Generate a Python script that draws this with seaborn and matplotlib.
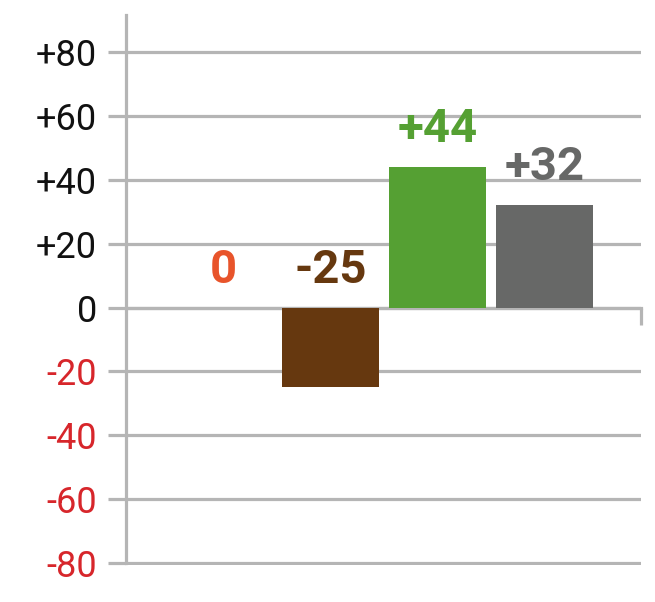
import matplotlib
matplotlib.use('Agg')
import matplotlib.pyplot as plt
import seaborn as sns
import pandas as pd

# Dados do gráfico
categorias = ['A', 'B', 'C', 'D']
valores = [0, -25, 44, 32]
rotulos = ['0', '-25', '+44', '+32']
cores = ['#e8542b', '#66380f', '#55a033', '#676867']
yticks = [-80, -60, -40, -20, 0, 20, 40, 60, 80]
ytick_labels = ['-80', '-60', '-40', '-20', '0', '+20', '+40', '+60', '+80']

sns.set_style('white')
plt.rcParams['font.family'] = ['Roboto', 'DejaVu Sans']

cinza = '#b5b5b5'
df = pd.DataFrame({'cat': categorias, 'val': valores})

fig = plt.figure(figsize=(6.55, 6.02), dpi=100)
ax = fig.add_axes([0.1924, 0.0615, 0.786, 0.9135])

sns.barplot(data=df, x='cat', y='val', hue='cat', palette=cores,
            legend=False, width=0.907, saturation=1, linewidth=0,
            ax=ax, zorder=3)

ax.set_xlim(-0.911, 3.90)
ax.set_ylim(-80.6, 91.6)

# Grade horizontal
ax.set_yticks(yticks)
ax.set_yticklabels(ytick_labels, fontsize=26)
for lab, v in zip(ax.get_yticklabels(), yticks):
    lab.set_color('#d7262b' if v < 0 else '#111111')
ax.yaxis.grid(True, color=cinza, linewidth=2.3, zorder=0)
ax.tick_params(axis='y', length=13, width=2.3, color=cinza, pad=8, left=True)

# Eixo x no zero, com marca na ponta direita
ax.spines['bottom'].set_position(('data', 0))
ax.spines['bottom'].set_color(cinza)
ax.spines['bottom'].set_linewidth(2.3)
ax.spines['bottom'].set_zorder(1)
ax.set_xticks([3.90])
ax.set_xticklabels([''])
ax.tick_params(axis='x', length=12, width=2.3, color=cinza, direction='out', bottom=True)

ax.spines['left'].set_color(cinza)
ax.spines['left'].set_linewidth(2.3)
ax.spines['left'].set_bounds(-80, 91.6)
ax.spines['top'].set_visible(False)
ax.spines['right'].set_visible(False)
ax.set_xlabel('')
ax.set_ylabel('')

# Rótulos de valor
for i, (v, r, c) in enumerate(zip(valores, rotulos, cores)):
    ax.annotate(r, xy=(i, max(v, 0)), xytext=(0, 18), textcoords='offset points',
                ha='center', va='baseline', fontsize=34, fontweight='bold', color=c)

plt.savefig('out.png', dpi=100)
plt.close()
